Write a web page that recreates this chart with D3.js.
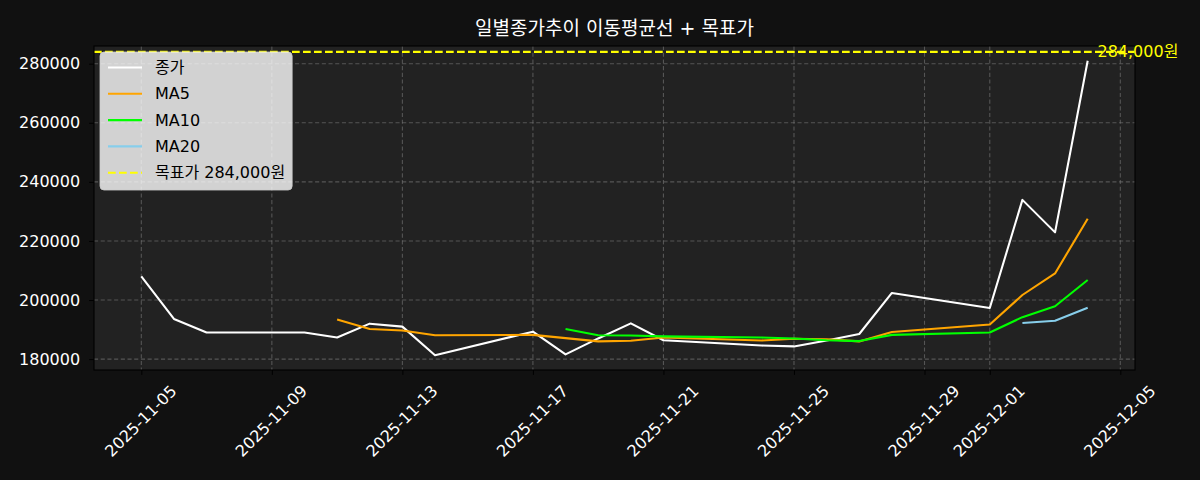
<!DOCTYPE html>
<html>
<head>
<meta charset="utf-8">
<script src="https://cdn.jsdelivr.net/npm/d3@7"></script>
<style>
  html, body { margin: 0; padding: 0; background: #111111; }
  svg { display: block; }
  text { font-family: "DejaVu Sans", "Noto Sans CJK KR", sans-serif; }
</style>
</head>
<body>
<svg id="chart" width="1200" height="480"></svg>
<script>
// ---- data ----
const dates = ["2025-11-05","2025-11-06","2025-11-07","2025-11-10","2025-11-11","2025-11-12",
  "2025-11-13","2025-11-14","2025-11-17","2025-11-18","2025-11-19","2025-11-20","2025-11-21",
  "2025-11-24","2025-11-25","2025-11-26","2025-11-27","2025-11-28","2025-12-01","2025-12-02",
  "2025-12-03","2025-12-04"];
const closeVals = [208000,193600,189000,189000,187300,192000,191000,181300,189300,181600,187000,
  192100,186400,184600,184300,186300,188500,202400,197300,233900,222900,281000];
const ma5Vals = [null,null,null,null,193400,190200,189700,188100,188200,187100,186000,186200,
  187300,186300,186900,186700,186000,189200,191700,201700,209000,227500];
const ma10Vals = [null,null,null,null,null,null,null,null,null,190200,188100,188000,187700,
  187300,187000,186400,186100,188200,189000,194200,197900,206800];
const ma20Vals = [null,null,null,null,null,null,null,null,null,null,null,null,null,null,null,
  null,null,null,null,192200,193000,197400];
const targetPrice = 284000;
const yTicks = [180000,200000,220000,240000,260000,280000];
const xTicks = ["2025-11-05","2025-11-09","2025-11-13","2025-11-17","2025-11-21","2025-11-25",
  "2025-11-29","2025-12-01","2025-12-05"];
const titleText = "일별종가추이 이동평균선 + 목표가";
const seriesNames = ["종가","MA5","MA10","MA20"];
const targetLabel = "목표가 284,000원";
const targetAnnot = "284,000원";

// ---- layout ----
const svg = d3.select("#chart");
const L = 94, R = 1135, T = 46, B = 370;
const parse = d3.utcParse("%Y-%m-%d");
const dts = dates.map(parse);
const DAY = 86400000;
const x0 = dts[0].getTime(), x1 = dts[dts.length-1].getTime();
const xm = (x1 - x0) * 0.05;
const x = d3.scaleUtc().domain([new Date(x0 - xm), new Date(x1 + xm)]).range([L, R]);
const ymin = d3.min(closeVals), ymax = d3.max(closeVals), ym = (ymax - ymin) * 0.05;
const y = d3.scaleLinear().domain([ymin - ym, ymax + ym]).range([B, T]);

svg.append("rect").attr("width",1200).attr("height",480).attr("fill","#111111");
svg.append("rect").attr("x",L).attr("y",T).attr("width",R-L).attr("height",B-T).attr("fill","#222222");

// grid
const grid = svg.append("g");
grid.selectAll("line.gx").data(xTicks.map(parse)).join("line")
  .attr("x1",d=>x(d)).attr("x2",d=>x(d)).attr("y1",T).attr("y2",B)
  .attr("stroke","#808080").attr("stroke-opacity",0.55).attr("stroke-width",1.1).attr("stroke-dasharray","4.1,2.6");
grid.selectAll("line.gy").data(yTicks).join("line")
  .attr("x1",L).attr("x2",R).attr("y1",d=>y(d)).attr("y2",d=>y(d))
  .attr("stroke","#808080").attr("stroke-opacity",0.55).attr("stroke-width",1.1).attr("stroke-dasharray","4.1,2.6");

// axes via d3
const xAxis = svg.append("g").attr("transform",`translate(0,${B})`)
  .call(d3.axisBottom(x).tickValues(xTicks.map(parse)).tickSize(4.9).tickPadding(4).tickFormat(d3.utcFormat("%Y-%m-%d")));
xAxis.select(".domain").remove();
xAxis.selectAll(".tick line").attr("stroke","#000");
xAxis.selectAll(".tick text").attr("fill","#ffffff").attr("font-size",16)
  .attr("text-anchor","middle").attr("dominant-baseline","central").attr("dy",null).attr("y",null)
  .attr("transform","translate(-1,51) rotate(-45)");

const yAxis = svg.append("g").attr("transform",`translate(${L},0)`)
  .call(d3.axisLeft(y).tickValues(yTicks).tickSize(4.9).tickPadding(9).tickFormat(d3.format("d")));
yAxis.select(".domain").remove();
yAxis.selectAll(".tick line").attr("stroke","#000");
yAxis.selectAll(".tick text").attr("fill","#ffffff").attr("font-size",16);

// clip
svg.append("clipPath").attr("id","clip").append("rect").attr("x",L).attr("y",T).attr("width",R-L).attr("height",B-T);
const plot = svg.append("g").attr("clip-path","url(#clip)");

// target line
plot.append("line").attr("x1",L).attr("x2",R).attr("y1",y(targetPrice)).attr("y2",y(targetPrice))
  .attr("stroke","#ffff00").attr("stroke-width",2.08).attr("stroke-dasharray","7.7,3.3");

const series = [
  {vals: closeVals, color: "#ffffff"},
  {vals: ma5Vals, color: "#ffa500"},
  {vals: ma10Vals, color: "#00ff00"},
  {vals: ma20Vals, color: "#87ceeb"}
];
const line = d3.line().defined(d => d.v != null).x(d => x(d.d)).y(d => y(d.v));
series.forEach(s => {
  plot.append("path").datum(dts.map((d,i)=>({d, v: s.vals[i]})))
    .attr("d", line).attr("fill","none").attr("stroke", s.color).attr("stroke-width",2.08)
    .attr("stroke-linejoin","round");
});

// spines
svg.append("rect").attr("x",L).attr("y",T).attr("width",R-L).attr("height",B-T)
  .attr("fill","none").attr("stroke","#000").attr("stroke-width",1.1);

// annotation
svg.append("text").attr("x", x(new Date(x1 + 0.3*DAY))).attr("y", y(targetPrice))
  .attr("dominant-baseline","central").attr("fill","#ffff00").attr("font-size",16).text(targetAnnot);

// title
svg.append("text").attr("x",(L+R)/2).attr("y",35).attr("text-anchor","middle")
  .attr("fill","#ffffff").attr("font-size",19).text(titleText);

// legend
const lg = svg.append("g");
const box = lg.append("rect").attr("x",100).attr("y",52).attr("height",138).attr("rx",4)
  .attr("fill","#ffffff").attr("fill-opacity",0.8).attr("stroke","#cccccc").attr("stroke-opacity",0.8);
const items = [
  {name: seriesNames[0], color:"#ffffff", dash:null},
  {name: seriesNames[1], color:"#ffa500", dash:null},
  {name: seriesNames[2], color:"#00ff00", dash:null},
  {name: seriesNames[3], color:"#87ceeb", dash:null},
  {name: targetLabel, color:"#ffff00", dash:"7.7,3.3"}
];
let maxEnd = 0;
items.forEach((it,i) => {
  const cy = 67.5 + i*26.3;
  lg.append("line").attr("x1",108).attr("x2",142).attr("y1",cy).attr("y2",cy)
    .attr("stroke",it.color).attr("stroke-width",2.08).attr("stroke-dasharray",it.dash);
  const t = lg.append("text").attr("x",155).attr("y",cy).attr("dominant-baseline","central")
    .attr("font-size",16).attr("fill","#000").text(it.name);
  maxEnd = Math.max(maxEnd, 155 + t.node().getComputedTextLength());
});
box.attr("width", maxEnd + 7 - 100);
</script>
</body>
</html>
